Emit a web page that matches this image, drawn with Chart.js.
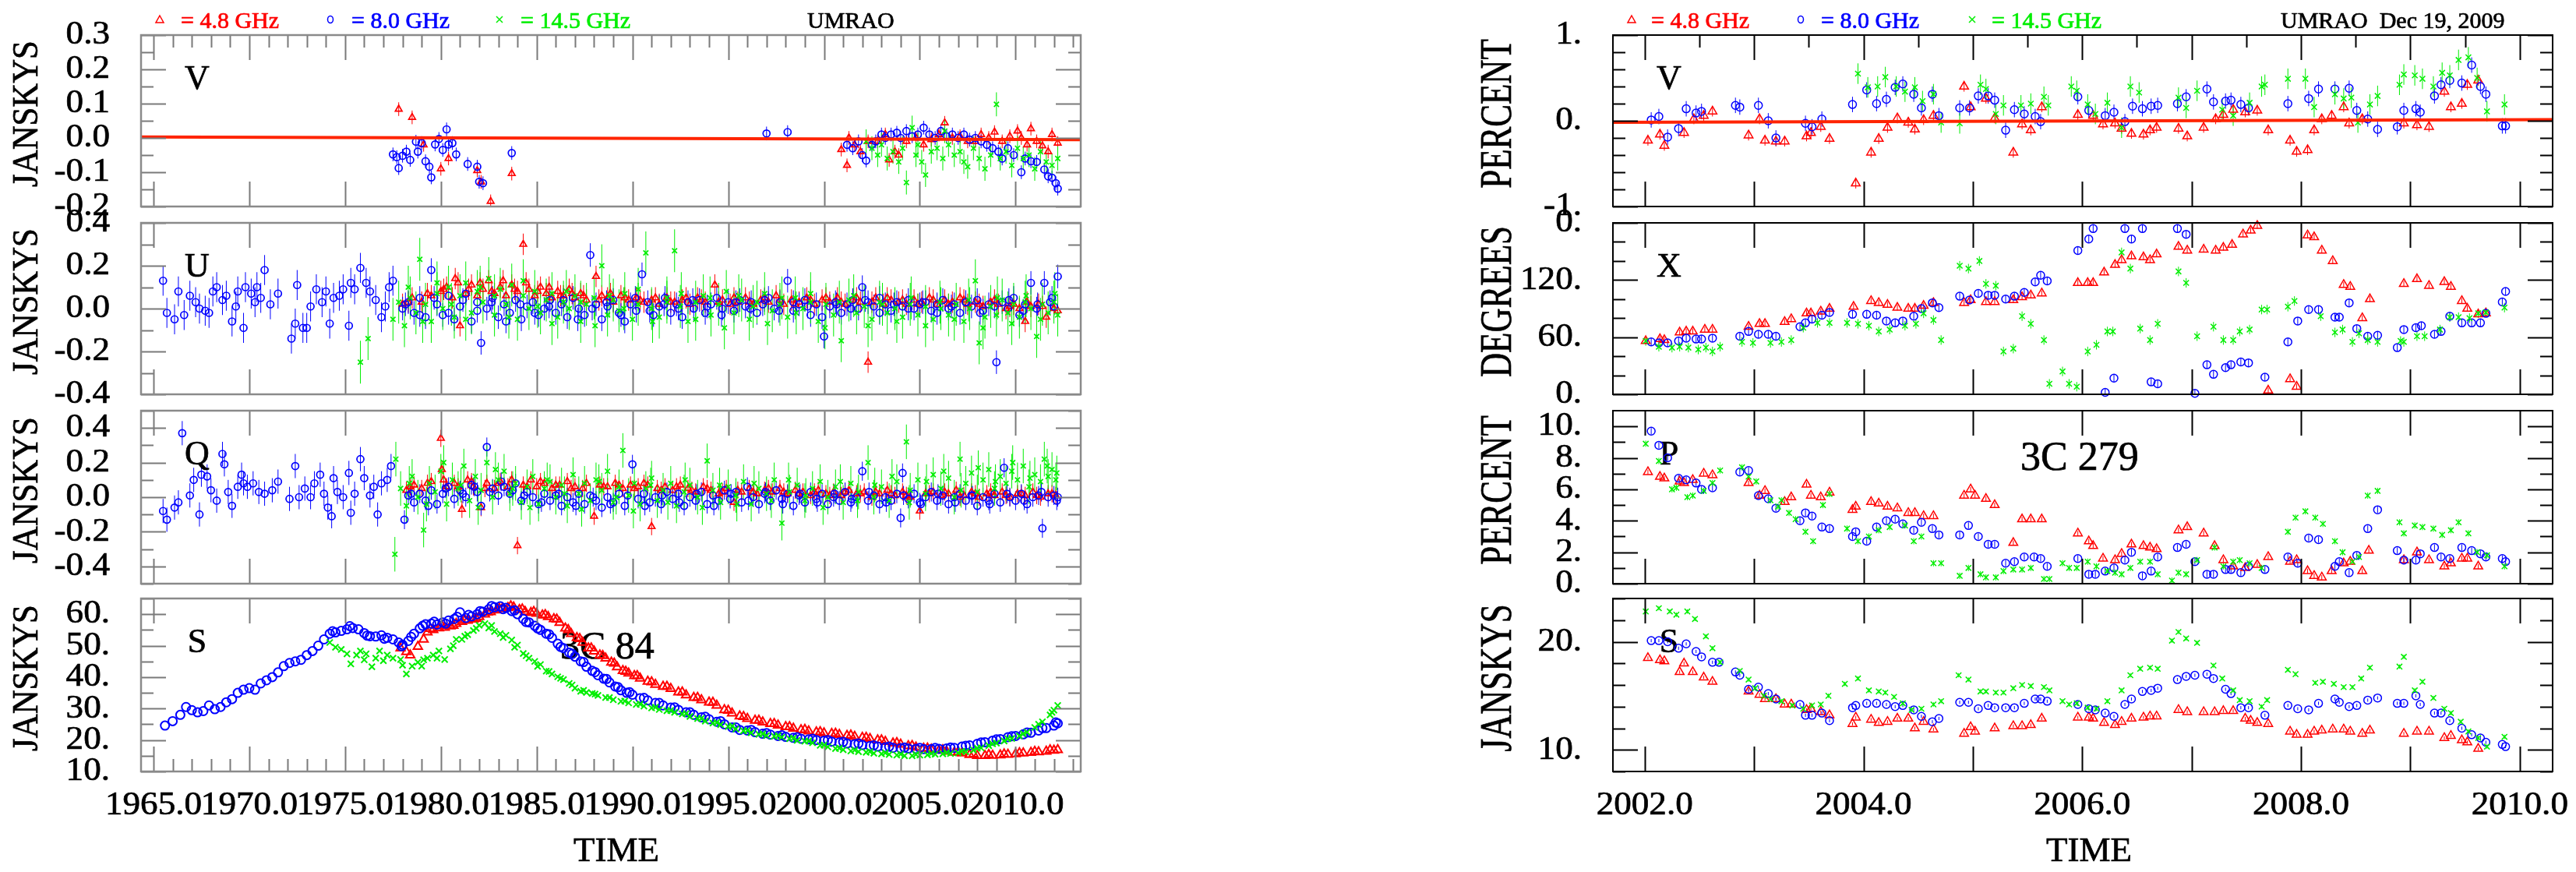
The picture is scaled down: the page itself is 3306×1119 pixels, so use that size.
<!DOCTYPE html>
<html>
<head>
<meta charset="utf-8">
<title>UMRAO 3C 84 / 3C 279</title>
<script src="https://cdn.jsdelivr.net/npm/chart.js@4.4.1/dist/chart.umd.min.js"></script>
<style>
  html, body { margin: 0; padding: 0; background: #fff; }
  #page { position: relative; width: 3306px; height: 1119px; overflow: hidden; background: #fff; }
</style>
</head>
<body>
<div id="page"></div>
<script>
// ---------- tick labels ----------
const leftYears = [1965, 1970, 1975, 1980, 1985, 1990, 1995, 2000, 2005, 2010];
const rightYears = [2002, 2003, 2004, 2005, 2006, 2007, 2008, 2009, 2010];
const rightYearLabels = [2002, 2004, 2006, 2008, 2010];
const lvTicks = [0.3, 0.2, 0.1, 0.0, -0.1, -0.2];
const luTicks = [0.4, 0.2, 0.0, -0.2, -0.4];
const lqTicks = [0.4, 0.2, 0.0, -0.2, -0.4];
const lsTicks = [10, 20, 30, 40, 50, 60];
const rvTicks = [1, 0, -1];
const rvLabels = ['1.', '0.', '-1.'];
const rxTicks = [0, 60, 120, 180];
const rxLabels = ['0.', '60.', '120.', '0.'];
const rpTicks = [0, 2, 4, 6, 8, 10];
const rsTicks = [10, 20];

// ---------- 3C 84 : V (Jy) ----------
const lvRed = [[1977.8,0.084],[1978.5,0.06],[1979.1,-0.02],[1980.0,-0.09],[1980.4,-0.06],[1981.9,-0.095],[1982.1,-0.128],[1982.6,-0.185],[1983.7,-0.104],
  [2000.9,-0.034],[2001.2,-0.08],[2001.3,0.0],[2001.6,-0.02],[2001.9,-0.04],[2002.3,-0.01],[2002.8,-0.01],[2003.2,0.01],[2003.4,-0.064],[2003.7,-0.04],[2003.9,-0.05],
  [2004.3,-0.01],[2004.8,0.0],[2005.2,-0.02],[2005.6,-0.005],[2006.0,0.01],[2006.3,0.044],[2006.7,0.0],[2007.1,0.005],[2007.5,-0.01],[2007.9,-0.01],[2008.2,0.01],
  [2008.6,0.0],[2008.9,0.017],[2009.3,-0.01],[2009.7,0.005],[2010.1,0.02],[2010.3,0.0],[2010.6,-0.02],[2010.8,0.027],[2011.1,-0.01],[2011.4,-0.023],[2011.7,-0.04],[2011.9,0.01],[2012.2,-0.015]];
const lvBlue = [[1977.5,-0.048],[1977.7,-0.056],[1977.8,-0.088],[1978.0,-0.052],[1978.2,-0.04],[1978.4,-0.064],[1978.7,-0.011],[1978.8,-0.04],[1979.0,-0.015],[1979.2,-0.068],
  [1979.4,-0.084],[1979.5,-0.115],[1979.7,-0.019],[1979.9,-0.003],[1980.1,-0.035],[1980.3,0.025],[1980.4,-0.019],[1980.6,-0.015],[1980.8,-0.048],[1981.4,-0.076],
  [1981.9,-0.084],[1982.0,-0.128],[1982.2,-0.132],[1983.7,-0.044],[1997.0,0.013],[1998.1,0.017],
  [2001.2,-0.02],[2001.5,-0.03],[2001.8,-0.01],[2002.0,-0.05],[2002.2,-0.066],[2002.5,-0.02],[2002.7,-0.01],[2003.0,0.01],[2003.2,0.0],[2003.5,0.01],[2003.8,0.015],
  [2004.0,0.0],[2004.3,0.02],[2004.6,0.005],[2004.9,0.01],[2005.2,0.03],[2005.5,0.01],[2005.8,0.0],[2006.1,0.02],[2006.4,0.005],[2006.7,0.01],[2007.0,0.0],[2007.3,0.01],
  [2007.6,-0.005],[2007.9,0.0],[2008.2,-0.01],[2008.5,-0.02],[2008.8,-0.03],[2009.1,-0.04],[2009.3,-0.06],[2009.6,-0.03],[2009.9,-0.05],[2010.3,-0.1],[2010.5,-0.06],
  [2010.8,-0.068],[2011.1,-0.07],[2011.5,-0.092],[2011.7,-0.112],[2011.9,-0.116],[2012.1,-0.132],[2012.2,-0.148]];
const lvGreen = [[2002.2,-0.01],[2002.5,-0.03],[2002.8,-0.05],[2003.0,-0.02],[2003.3,-0.06],[2003.6,-0.04],[2003.9,-0.07],[2004.1,-0.03],[2004.3,-0.13],[2004.6,0.03],
  [2004.8,-0.05],[2004.9,-0.02],[2005.1,-0.07],[2005.3,-0.108],[2005.6,-0.04],[2005.9,-0.03],[2006.2,-0.06],[2006.3,0.02],[2006.5,-0.02],[2006.8,-0.05],[2007.1,-0.04],
  [2007.3,-0.07],[2007.5,-0.084],[2007.8,-0.03],[2008.1,-0.06],[2008.4,-0.09],[2008.7,-0.05],[2009.0,0.098],[2009.2,-0.06],[2009.5,-0.04],[2009.8,-0.08],[2010.1,-0.03],
  [2010.4,-0.06],[2010.7,-0.05],[2011.0,-0.09],[2011.3,-0.04],[2011.6,-0.07],[2011.9,-0.08],[2012.2,-0.06]];
const lvFit = [[1964.35,0.003],[2013.4,-0.005]];

// ---------- 3C 84 : U (Jy) ----------
const luRed = [[1978.0,0.02],[1978.5,0.05],[1979.0,0.03],[1979.5,0.06],[1980.0,0.08],[1980.3,0.1],[1980.6,0.05],[1980.9,0.12],[1981.0,-0.08],[1981.3,0.07],[1981.6,0.11],
  [1981.9,0.06],[1982.2,0.09],[1982.5,0.13],[1982.8,0.07],[1983.1,0.1],[1983.4,0.06],[1983.7,0.11],[1984.0,0.08],[1984.3,0.30],[1984.6,0.09],[1984.9,0.06],[1985.2,0.1],
  [1985.5,0.07],[1985.8,0.05],[1986.1,0.08],[1986.4,0.06],[1986.7,0.09],[1987.0,0.05],[1987.3,0.07],[1987.6,0.04],[1988.1,0.15],[1988.4,0.06],[1988.7,0.05],[1989.0,0.03],
  [1989.4,0.06],[1989.8,0.04],[1990.2,0.05],[1990.6,0.03],[1991.0,0.04],[1991.4,0.02],[1991.8,0.05],[1992.2,0.03],[1992.6,0.04],[1993.0,0.02],[1993.4,0.05],[1993.8,0.03],
  [1994.3,0.11],[1994.7,0.04],[1995.1,0.02],[1995.5,0.03],[1995.9,0.05],[1996.3,0.02],[1996.7,0.04],[1997.1,0.03],[1997.5,0.06],[1997.9,0.02],[1998.3,0.04],[1998.7,0.03],
  [1999.1,0.05],[1999.5,0.02],[1999.9,0.04],[2000.3,0.03],[2000.7,0.05],[2001.1,0.02],[2001.5,0.04],[2001.9,0.03],[2002.3,-0.25],[2002.7,0.05],[2003.1,0.02],[2003.5,0.04],
  [2003.9,0.03],[2004.3,0.02],[2004.7,0.04],[2005.1,0.03],[2005.5,0.05],[2005.9,0.02],[2006.3,0.04],[2006.7,0.03],[2007.1,0.05],[2007.5,0.02],[2007.9,0.03],[2008.3,0.01],
  [2008.7,0.03],[2009.1,0.02],[2009.5,0.0],[2009.9,0.02],[2010.2,0.0],[2010.5,-0.06],[2010.8,0.01],[2011.2,0.02],[2011.6,-0.04],[2012.0,0.0],[2012.2,-0.01]];
const luRed2 = [[1978.3,0.03],[1979.3,0.07],[1980.15,0.09],[1980.75,0.14],[1981.45,0.09],[1982.05,0.12],[1982.65,0.08],[1983.25,0.13],[1983.85,0.09],[1984.45,0.12],
  [1985.05,0.08],[1985.65,0.1],[1986.25,0.06],[1986.85,0.07],[1987.45,0.06],[1988.25,0.04],[1988.85,0.07],[1989.6,0.05],[1990.4,0.04],[1991.2,0.05],[1992.0,0.03],[1992.8,0.05],
  [1993.6,0.04],[1994.5,0.03],[1995.3,0.05],[1996.1,0.03],[1996.9,0.05],[1997.7,0.04],[1998.5,0.02],[1999.3,0.04],[2000.1,0.05],[2000.9,0.03],[2001.7,0.05],[2002.5,0.03],
  [2003.3,0.05],[2004.1,0.04],[2004.9,0.02],[2005.7,0.04],[2006.5,0.02],[2007.3,0.04],[2008.1,0.02],[2008.9,0.04],[2009.7,0.01],[2010.6,0.03],[2011.4,0.01]];
const luBlueEarly = [[1965.5,0.13],[1965.7,-0.02],[1966.1,-0.05],[1966.3,0.08],[1966.6,-0.03],[1966.9,0.06],[1967.2,0.03],[1967.4,0.0],[1967.7,-0.01],[1967.9,-0.02],[1968.1,0.08],
  [1968.3,0.10],[1968.6,0.04],[1968.8,0.06],[1969.1,-0.06],[1969.3,0.01],[1969.4,0.08],[1969.7,-0.09],[1969.8,0.10],[1970.1,0.07],[1970.3,0.03],[1970.4,0.10],[1970.6,0.05],
  [1970.8,0.18],[1971.1,0.02],[1971.5,0.07],[1972.2,-0.14],[1972.4,-0.07],[1972.5,0.11],[1972.8,-0.09],[1973.0,-0.09],[1973.2,0.01],[1973.5,0.09],[1973.8,0.03],[1974.0,0.08],
  [1974.2,-0.07],[1974.4,0.05],[1974.7,0.06],[1974.9,0.09],[1975.2,-0.08],[1975.3,0.12],[1975.5,0.09],[1975.8,0.19],[1976.1,0.12],[1976.3,0.08],[1976.6,0.04],[1976.9,-0.04],
  [1977.1,0.01],[1977.3,0.10],[1977.5,0.13]];
const luBlue = [[1978.0,0.0],[1978.3,0.03],[1978.6,-0.02],[1978.9,0.05],[1979.2,-0.04],[1979.5,0.18],[1979.8,0.02],[1980.1,-0.03],[1980.4,0.06],[1980.7,-0.05],[1981.0,0.01],[1981.3,0.07],
  [1981.6,-0.06],[1981.9,0.03],[1982.1,-0.16],[1982.4,0.0],[1982.7,0.05],[1983.0,-0.04],[1983.3,0.02],[1983.6,-0.02],[1983.9,0.04],[1984.2,-0.05],[1984.5,0.01],[1984.8,0.03],
  [1985.1,-0.03],[1985.4,0.0],[1985.7,0.04],[1986.0,-0.02],[1986.3,0.02],[1986.6,-0.04],[1986.9,0.05],[1987.2,0.0],[1987.5,-0.03],[1987.8,0.25],[1988.1,0.02],[1988.4,-0.05],
  [1988.7,0.01],[1989.0,0.04],[1989.3,-0.02],[1989.6,-0.06],[1989.9,0.02],[1990.2,-0.01],[1990.5,0.16],[1990.8,0.03],[1991.1,-0.03],[1991.4,0.01],[1991.7,0.05],[1992.0,-0.02],
  [1992.3,0.02],[1992.6,-0.04],[1992.9,0.03],[1993.2,0.0],[1993.5,0.04],[1993.8,-0.02],[1994.1,0.02],[1994.4,0.05],[1994.7,0.0],[1995.0,0.03],[1995.3,-0.01],[1995.6,0.04],
  [1995.9,0.01],[1996.2,0.03],[1996.5,-0.02],[1996.8,0.02],[1997.1,0.05],[1997.4,0.0],[1997.7,0.03],[1998.1,0.13],[1998.4,-0.01],[1998.7,0.02],[1999.0,0.04],[1999.3,-0.03],
  [1999.6,0.02],[2000.0,-0.13],[2000.3,0.01],[2000.6,0.03],[2000.9,-0.02],[2001.2,0.02],[2001.5,0.04],[2001.8,0.0],[2002.0,0.10],[2002.3,0.03],[2002.6,0.01],[2002.9,0.05],
  [2003.2,0.02],[2003.5,-0.01],[2003.8,0.03],[2004.1,0.01],[2004.4,0.04],[2004.7,0.0],[2005.0,0.02],[2005.3,0.03],[2005.6,-0.01],[2005.9,0.02],[2006.2,0.04],[2006.5,0.0],
  [2006.8,0.02],[2007.1,-0.02],[2007.4,0.03],[2007.7,0.01],[2008.0,0.04],[2008.3,-0.01],[2008.6,0.02],[2009.0,-0.25],[2009.3,0.03],[2009.6,0.0],[2009.9,0.05],[2010.2,-0.03],
  [2010.5,0.02],[2010.8,0.12],[2011.1,0.0],[2011.5,0.12],[2011.8,0.03],[2012.0,0.01],[2012.2,0.15]];
const luBlue2 = [[1978.15,0.02],[1978.9,-0.03],[1979.65,0.05],[1980.4,-0.02],[1981.15,0.04],[1981.9,-0.01],[1982.65,0.03],[1983.4,-0.06],[1984.15,0.02],[1984.9,-0.02],
  [1985.65,0.01],[1986.4,0.04],[1987.15,-0.05],[1987.9,0.0],[1988.65,0.03],[1989.4,-0.03],[1990.15,0.05],[1990.9,-0.01],[1991.65,0.02],[1992.4,0.0],[1993.15,0.04],[1993.9,0.01],
  [1994.65,-0.03],[1995.4,0.03],[1996.15,0.0],[1996.9,0.04],[1997.65,-0.01],[1998.4,0.03],[1999.15,0.01],[1999.9,-0.04],[2000.65,0.02],[2001.4,0.0],[2002.15,0.04],[2002.9,-0.02],
  [2003.65,0.02],[2004.4,0.0],[2005.15,0.03],[2005.9,-0.02],[2006.65,0.01],[2007.4,0.03],[2008.15,-0.02],[2008.9,0.01],[2009.65,0.04],[2010.4,-0.01],[2011.15,0.02],[2011.9,0.05]];
const luGreen = [[1975.8,-0.25],[1976.2,-0.14],[1977.5,-0.05],[1977.8,0.03],[1978.1,-0.08],[1978.4,0.05],[1978.7,-0.02],[1978.9,0.23],[1979.2,0.02],[1979.5,-0.06],
  [1979.8,0.07],[1980.1,0.0],[1980.4,0.1],[1980.7,-0.04],[1981.0,0.06],[1981.3,0.12],[1981.6,-0.02],[1981.9,0.08],[1982.2,0.03],[1982.5,0.14],[1982.8,-0.03],[1983.1,0.09],
  [1983.4,0.02],[1983.7,0.11],[1984.0,-0.05],[1984.3,0.06],[1984.6,0.0],[1984.9,0.08],[1985.2,-0.02],[1985.5,0.04],[1985.8,0.07],[1986.1,-0.04],[1986.4,0.03],[1986.7,0.0],
  [1987.0,0.06],[1987.3,-0.06],[1987.6,0.02],[1988.0,0.05],[1988.4,0.20],[1988.7,-0.03],[1989.0,0.04],[1989.3,-0.01],[1989.6,0.07],[1990.0,-0.05],[1990.3,0.02],[1990.7,0.26],
  [1991.0,0.0],[1991.4,-0.04],[1991.8,0.05],[1992.2,0.27],[1992.5,0.01],[1992.9,-0.06],[1993.3,0.03],[1993.7,0.06],[1994.1,-0.03],[1994.5,0.02],[1994.9,0.08],[1995.3,-0.02],
  [1995.7,0.04],[1996.1,-0.05],[1996.5,0.03],[1996.9,0.07],[1997.3,-0.01],[1997.7,0.02],[1998.1,-0.04],[1998.5,0.05],[1998.9,0.0],[1999.3,0.03],[1999.7,-0.06],[2000.1,0.02],
  [2000.5,-0.03],[2000.9,-0.15],[2001.3,0.04],[2001.7,-0.02],[2002.1,0.01],[2002.5,-0.05],[2002.9,0.03],[2003.3,-0.02],[2003.7,0.0],[2004.1,-0.04],[2004.5,0.02],[2004.9,-0.03],
  [2005.3,0.01],[2005.7,-0.05],[2006.1,0.0],[2006.5,-0.03],[2006.9,0.02],[2007.3,-0.06],[2007.6,0.0],[2007.9,0.13],[2008.1,-0.16],[2008.4,-0.04],[2008.7,0.01],[2009.0,-0.03],
  [2009.3,0.04],[2009.6,-0.02],[2009.9,0.02],[2010.2,-0.04],[2010.5,0.03],[2010.8,0.0],[2011.1,-0.13],[2011.4,0.02],[2011.7,-0.02],[2012.0,0.03],[2012.2,-0.03]];
const luGreen2 = [[1978.3,0.1],[1979.05,-0.06],[1979.8,0.12],[1980.55,0.02],[1981.3,-0.05],[1982.05,0.1],[1982.8,0.06],[1983.55,-0.04],[1984.3,0.13],[1985.05,0.01],
  [1985.8,-0.07],[1986.55,0.08],[1987.3,0.03],[1988.05,-0.08],[1988.8,0.06],[1989.55,0.0],[1990.3,0.09],[1991.05,-0.06],[1991.8,0.03],[1992.55,0.07],[1993.3,-0.05],[1994.05,0.05],
  [1994.8,-0.09],[1995.55,0.06],[1996.3,0.01],[1997.05,-0.07],[1997.8,0.05],[1998.55,-0.02],[1999.3,0.07],[2000.05,-0.09],[2000.8,0.03],[2001.55,0.06],[2002.3,-0.08],[2003.05,0.02],
  [2003.8,-0.06],[2004.55,0.05],[2005.3,-0.08],[2006.05,0.03],[2006.8,-0.05],[2007.55,0.04],[2008.3,-0.09],[2009.05,0.05],[2009.8,-0.07],[2010.55,0.06],[2011.3,-0.05],[2012.05,0.07]];

// ---------- 3C 84 : Q (Jy) ----------
const lqRed = [[1978.2,0.04],[1978.6,0.07],[1979.0,0.05],[1979.5,0.09],[1980.0,0.34],[1980.05,0.16],[1980.3,0.06],[1980.7,0.08],[1981.1,-0.07],[1981.4,0.1],[1981.7,0.06],
  [1982.1,-0.06],[1982.4,0.08],[1982.8,0.05],[1983.1,0.09],[1983.5,0.06],[1984.0,-0.28],[1984.3,0.07],[1984.7,0.1],[1985.0,0.06],[1985.4,0.08],[1985.8,0.05],[1986.2,0.07],
  [1986.6,0.09],[1987.0,0.06],[1987.4,0.05],[1988.0,-0.11],[1988.3,0.07],[1988.7,0.06],[1989.1,0.08],[1989.5,0.05],[1989.9,0.07],[1990.3,0.06],[1990.6,0.08],[1991.0,-0.17],
  [1991.3,0.05],[1991.7,0.06],[1992.1,0.04],[1992.5,0.07],[1992.9,0.05],[1993.3,0.03],[1993.7,0.06],[1994.1,0.04],[1994.5,0.02],[1994.9,0.05],[1995.3,-0.03],[1995.7,0.03],
  [1996.1,0.05],[1996.5,0.02],[1996.9,0.04],[1997.3,0.03],[1997.7,0.05],[1998.1,0.02],[1998.5,0.04],[1998.9,0.03],[1999.3,0.01],[1999.7,0.04],[2000.1,0.02],[2000.5,0.03],
  [2000.9,0.01],[2001.3,0.04],[2001.7,0.02],[2002.1,0.03],[2002.5,0.0],[2002.9,0.02],[2003.3,0.04],[2003.7,0.01],[2004.1,0.03],[2004.5,0.0],[2005.0,-0.08],[2005.3,0.02],
  [2005.7,0.03],[2006.1,0.01],[2006.5,0.02],[2006.9,0.04],[2007.3,0.01],[2007.7,0.03],[2008.1,0.0],[2008.5,0.02],[2008.9,0.01],[2009.3,0.03],[2009.7,0.0],[2010.1,0.02],
  [2010.5,0.01],[2010.9,0.03],[2011.3,0.0],[2011.7,0.02],[2012.1,0.01]];
const lqRed2 = [[1978.4,0.06],[1979.3,0.08],[1980.15,0.1],[1980.9,0.06],[1981.6,0.09],[1982.3,0.05],[1983.0,0.08],[1983.7,0.1],[1984.5,0.06],[1985.2,0.09],[1986.0,0.07],
  [1986.8,0.05],[1987.6,0.08],[1988.5,0.06],[1989.3,0.07],[1990.1,0.05],[1990.8,0.07],[1991.5,0.04],[1992.3,0.06],[1993.1,0.04],[1993.9,0.05],[1994.7,0.03],[1995.5,0.04],
  [1996.3,0.03],[1997.1,0.05],[1997.9,0.03],[1998.7,0.02],[1999.5,0.03],[2000.3,0.01],[2001.1,0.03],[2001.9,0.02],[2002.7,0.03],[2003.5,0.02],[2004.3,0.01],[2005.5,0.02],
  [2006.3,0.03],[2007.1,0.0],[2007.9,0.02],[2008.7,0.03],[2009.5,0.01],[2010.3,0.02],[2011.1,0.01],[2011.9,0.02]];
const lqBlueEarly = [[1965.5,-0.08],[1965.7,-0.13],[1966.1,-0.06],[1966.3,-0.03],[1966.5,0.37],[1966.9,0.01],[1967.1,0.10],[1967.4,-0.10],[1967.5,0.13],[1967.8,0.12],[1968.0,0.04],
  [1968.3,-0.02],[1968.6,0.25],[1968.7,0.19],[1968.9,0.03],[1969.1,-0.05],[1969.4,0.06],[1969.6,0.13],[1969.7,0.08],[1969.9,0.06],[1970.2,0.08],[1970.5,0.03],[1970.8,0.02],
  [1971.2,0.04],[1971.5,0.09],[1972.1,-0.01],[1972.4,0.18],[1972.6,0.0],[1972.9,0.05],[1973.2,0.0],[1973.4,0.08],[1973.7,0.13],[1973.9,0.02],[1974.1,-0.06],[1974.3,-0.11],
  [1974.4,0.11],[1974.6,0.03],[1974.9,0.0],[1975.2,0.14],[1975.3,-0.09],[1975.5,0.02],[1975.8,0.22],[1976.0,0.11],[1976.3,0.01],[1976.5,0.06],[1976.7,-0.10],[1976.9,0.08],
  [1977.2,0.10],[1977.4,0.18]];
const lqBlue = [[1978.1,-0.13],[1978.3,0.01],[1978.6,-0.03],[1978.9,0.02],[1979.2,-0.02],[1979.5,0.04],[1979.8,-0.04],[1980.1,0.02],[1980.4,0.06],[1980.7,-0.01],[1981.0,0.04],[1981.3,0.0],
  [1981.6,0.07],[1981.9,0.03],[1982.1,-0.05],[1982.4,0.29],[1982.7,0.05],[1983.0,0.01],[1983.3,0.06],[1983.6,0.02],[1983.9,0.08],[1984.2,-0.02],[1984.5,0.03],[1984.8,0.0],
  [1985.1,-0.04],[1985.4,0.02],[1985.7,-0.02],[1986.0,0.01],[1986.3,-0.05],[1986.6,0.0],[1986.9,-0.03],[1987.2,0.02],[1987.5,-0.04],[1987.8,0.01],[1988.1,-0.02],[1988.4,-0.06],
  [1988.7,0.0],[1989.0,-0.03],[1989.3,0.02],[1989.6,-0.05],[1990.0,0.19],[1990.3,-0.01],[1990.6,0.02],[1990.9,-0.03],[1991.2,0.0],[1991.5,-0.04],[1991.8,0.03],[1992.1,-0.01],
  [1992.4,0.02],[1992.7,-0.05],[1993.0,0.0],[1993.3,-0.02],[1993.6,0.03],[1993.9,-0.04],[1994.2,0.01],[1994.5,-0.02],[1994.8,0.04],[1995.1,-0.01],[1995.4,0.03],[1995.7,-0.03],
  [1996.0,0.06],[1996.3,0.0],[1996.6,-0.04],[1996.9,0.02],[1997.2,-0.02],[1997.5,0.04],[1997.8,-0.01],[1998.1,0.02],[1998.4,-0.05],[1998.7,0.01],[1999.0,-0.03],[1999.3,0.03],
  [1999.6,-0.01],[1999.9,0.02],[2000.2,-0.04],[2000.5,0.0],[2000.8,-0.02],[2001.1,0.03],[2001.4,-0.03],[2001.7,0.0],[2002.0,0.15],[2002.3,-0.02],[2002.6,0.01],[2002.9,-0.04],
  [2003.2,0.0],[2003.5,-0.02],[2003.8,0.02],[2004.0,-0.12],[2004.1,0.14],[2004.4,-0.01],[2004.7,0.02],[2005.0,-0.03],[2005.3,0.0],[2005.6,0.03],[2005.9,-0.02],[2006.2,0.01],
  [2006.5,-0.04],[2006.8,0.0],[2007.1,0.02],[2007.4,-0.02],[2007.7,0.01],[2008.0,-0.05],[2008.3,0.0],[2008.6,-0.02],[2008.9,0.02],[2009.2,-0.03],[2009.4,0.17],[2009.7,0.0],
  [2010.0,-0.02],[2010.3,0.02],[2010.6,-0.04],[2010.9,0.0],[2011.2,0.01],[2011.4,-0.18],[2011.7,0.0],[2012.0,0.01],[2012.2,0.0]];
const lqBlue2 = [[1978.45,0.02],[1979.35,-0.05],[1980.25,0.05],[1981.15,0.02],[1981.75,0.06],[1982.55,0.03],[1983.15,0.09],[1983.75,0.04],[1984.35,0.01],[1985.25,-0.03],
  [1986.15,0.02],[1987.05,-0.05],[1987.95,0.0],[1988.85,-0.04],[1989.75,0.01],[1990.65,-0.05],[1991.55,0.01],[1992.45,-0.03],[1993.35,0.02],[1994.25,-0.05],[1995.15,0.02],
  [1996.05,-0.02],[1996.95,0.03],[1997.85,-0.04],[1998.75,0.02],[1999.65,-0.03],[2000.55,0.02],[2001.45,-0.01],[2002.35,0.03],[2003.25,-0.03],[2004.15,0.01],[2005.05,-0.04],
  [2005.95,0.02],[2006.85,-0.03],[2007.75,0.01],[2008.65,-0.04],[2009.55,0.02],[2010.45,-0.02],[2011.35,0.03],[2012.15,-0.02]];
const lqGreen = [[1977.6,-0.33],[1977.65,0.22],[1977.9,0.05],[1978.2,-0.05],[1978.5,0.12],[1978.8,0.0],[1979.1,-0.19],[1979.4,0.08],[1979.7,0.03],[1980.0,0.15],[1980.3,-0.04],
  [1980.6,0.1],[1980.9,0.05],[1981.2,0.18],[1981.5,-0.02],[1981.8,0.12],[1982.1,0.04],[1982.4,0.2],[1982.7,0.0],[1983.0,0.1],[1983.3,0.15],[1983.6,0.02],[1983.9,0.08],
  [1984.2,-0.03],[1984.5,0.06],[1984.8,0.12],[1985.1,-0.04],[1985.4,0.05],[1985.7,0.09],[1986.0,0.0],[1986.3,0.07],[1986.6,-0.05],[1986.9,0.13],[1987.2,0.02],[1987.5,0.08],
  [1987.8,-0.02],[1988.1,0.1],[1988.4,0.04],[1988.7,0.15],[1989.0,-0.03],[1989.3,0.06],[1989.5,0.27],[1989.8,0.01],[1990.1,0.08],[1990.4,-0.04],[1990.7,0.05],[1991.0,0.11],
  [1991.3,-0.02],[1991.6,0.04],[1992.0,0.08],[1992.3,-0.05],[1992.7,0.03],[1993.0,0.07],[1993.4,0.0],[1993.9,0.21],[1994.2,0.04],[1994.6,-0.03],[1995.0,0.06],[1995.4,0.01],
  [1995.8,0.09],[1996.2,-0.04],[1996.6,0.05],[1997.0,0.02],[1997.4,0.1],[1997.8,-0.15],[1998.2,0.03],[1998.6,0.07],[1999.0,-0.02],[1999.4,0.05],[1999.8,0.09],[2000.2,0.0],
  [2000.6,0.06],[2001.0,-0.03],[2001.4,0.08],[2001.8,0.03],[2002.3,0.20],[2002.6,0.0],[2003.0,0.06],[2003.4,-0.02],[2003.8,0.09],[2004.3,0.32],[2004.5,0.04],[2004.9,0.1],
  [2005.3,0.02],[2005.7,0.13],[2006.1,0.05],[2006.5,0.11],[2006.8,0.0],[2007.1,0.22],[2007.4,0.08],[2007.7,0.14],[2008.0,0.03],[2008.3,0.1],[2008.6,0.16],[2008.9,0.05],
  [2009.2,0.12],[2009.5,0.08],[2009.8,0.15],[2010.1,0.1],[2010.4,0.18],[2010.7,0.06],[2011.0,0.13],[2011.3,0.09],[2011.5,0.22],[2011.7,0.12],[2011.9,0.16],[2012.1,0.1]];
const lqGreen2 = [[1978.35,0.08],[1979.25,-0.04],[1980.15,0.2],[1981.05,0.07],[1981.95,-0.06],[1982.85,0.16],[1983.75,0.05],[1984.65,-0.06],[1985.55,0.1],[1986.45,0.02],
  [1987.35,-0.07],[1988.25,0.09],[1989.15,0.0],[1990.05,-0.08],[1990.95,0.07],[1991.85,-0.03],[1992.75,0.1],[1993.65,-0.06],[1994.55,0.07],[1995.45,-0.04],[1996.35,0.08],
  [1997.25,-0.02],[1998.15,0.1],[1999.05,0.01],[1999.95,-0.06],[2000.85,0.09],[2001.75,-0.02],[2002.65,0.07],[2003.55,0.12],[2004.45,-0.03],[2005.35,0.09],[2006.25,0.15],
  [2007.15,0.04],[2008.05,0.17],[2008.95,0.09],[2009.85,0.2],[2010.75,0.11],[2011.65,0.18],[2012.15,0.14]];

// ---------- 3C 84 : S (Jy) ----------
const lsRed = [[1977.9,49.2],[1978.2,48],[1978.4,47],[1978.8,49.7],[1979.1,52],[1979.3,54.3],[1979.6,55],[1979.9,55.6],[1980.2,55.8],[1980.5,56.2],[1980.8,57],[1981.1,57.6],
  [1981.4,58],[1981.7,58.4],[1982.0,59.2],[1982.3,60],[1982.6,60.7],[1982.9,61.3],[1983.2,61.7],[1983.5,62],[1983.8,62.2],[1984.1,61.4],[1984.4,60.8],[1984.7,60.5],[1985.0,60.2],
  [1985.3,59.7],[1985.6,59.2],[1985.9,58.5],[1986.2,57.3],[1986.5,55.5],[1986.8,53.8],[1987.1,52.5],[1987.4,51],[1987.7,49.2],[1988.0,48.2],[1988.3,47],[1988.6,46],[1988.9,44.7],
  [1989.2,43.2],[1989.5,42],[1989.8,41.2],[1990.1,40.4],[1990.4,39.6],[1990.8,38.6],[1991.2,37.6],[1991.6,37],[1992.0,36.3],[1992.4,35.2],[1992.8,34.3],[1993.2,33.5],
  [1993.6,32.7],[1994.0,32],[1994.4,31],[1994.8,29.6],[1995.2,28.5],[1995.6,27.6],[1996.0,26.8],[1996.4,26.2],[1996.8,25.7],[1997.2,25.2],[1997.6,24.7],[1998.0,24.2],
  [1998.4,23.7],[1998.8,23.2],[1999.2,22.8],[1999.6,22.5],[2000.0,22.2],[2000.4,22],[2000.8,21.7],[2001.2,21.4],[2001.6,21.1],[2002.0,20.8],[2002.4,20.4],[2002.8,20],
  [2003.2,19.5],[2003.6,19],[2004.0,18.6],[2004.4,18.1],[2004.8,17.7],[2005.2,17.3],[2005.6,17],[2006.0,16.7],[2006.4,16.4],[2006.8,16.1],[2007.2,15.8],[2007.6,15.3],
  [2008.0,15.0],[2008.4,15.0],[2008.8,15.1],[2009.2,15.2],[2009.6,15.4],[2010.0,15.6],[2010.4,15.8],[2010.8,16.0],[2011.2,16.2],[2011.6,16.4],[2012.0,16.7],[2012.2,16.9]];
const lsRed2 = [[1979.45,55.4],[1980.05,56.3],[1980.65,56.4],[1981.25,58.2],[1981.85,58.6],[1982.45,60.6],[1983.05,61.8],[1983.65,62.6],[1984.25,61.6],[1984.85,60.8],
  [1985.45,59.8],[1986.05,58.4],[1986.65,55],[1987.25,52.2],[1987.85,49.2],[1988.45,46.8],[1989.05,44.4],[1989.65,41.8],[1990.25,40.4],[1991.0,38.4],[1991.8,37],[1992.6,35.2],
  [1993.4,33.5],[1994.2,31.9],[1995.0,29.4],[1995.8,27.4],[1996.6,26.2],[1997.4,25.2],[1998.2,24.2],[1999.0,23.3],[1999.8,22.6],[2000.6,22.1],[2001.4,21.5],[2002.2,20.8],
  [2003.0,20],[2003.8,19.1],[2004.6,18.2],[2005.4,17.4],[2006.2,16.8],[2007.0,16.2],[2007.8,15.5],[2008.6,15.3],[2009.4,15.5],[2010.2,15.9],[2011.0,16.3],[2011.8,16.8]];
const lsBlue = [[1965.6,24.6],[1966.0,26],[1966.4,28],[1966.7,30.5],[1967.0,29.5],[1967.3,28.8],[1967.6,29.2],[1967.9,31],[1968.2,29.8],[1968.5,30.5],[1968.8,32],[1969.1,33],
  [1969.4,35],[1969.7,36],[1970.0,36.5],[1970.3,36],[1970.6,38],[1970.9,39],[1971.2,40],[1971.5,41.5],[1971.8,43.5],[1972.1,44.5],[1972.4,45],[1972.7,45.5],[1973.0,47],
  [1973.3,48.3],[1973.6,50],[1973.9,52],[1974.2,53.8],[1974.5,54.2],[1974.8,54.7],[1975.1,55.2],[1975.4,55.6],[1975.7,55.2],[1976.0,54],[1976.3,53],[1976.6,52.9],[1976.9,53.3],
  [1977.2,52.5],[1977.5,52],[1977.8,51],[1978.0,50.3],[1978.3,51.5],[1978.6,53.8],[1978.9,55.5],[1979.2,56.8],[1979.5,57],[1979.8,56.7],[1980.1,57.4],[1980.4,58],[1980.7,58.5],
  [1981.0,60.6],[1981.3,58.8],[1981.6,59.3],[1981.9,60],[1982.2,60.8],[1982.5,61.6],[1982.8,62.2],[1983.1,62.5],[1983.4,62],[1983.7,61],[1984.0,60],[1984.3,58.5],[1984.6,57.4],
  [1984.9,56.3],[1985.2,55],[1985.5,53.8],[1985.8,52.5],[1986.1,50.6],[1986.4,49.2],[1986.7,47.8],[1987.0,46.5],[1987.3,45],[1987.6,43.3],[1987.9,42],[1988.2,40.6],[1988.5,39.5],
  [1988.8,38.3],[1989.1,37],[1989.4,35.8],[1989.7,35],[1990.0,34.4],[1990.4,33.3],[1990.8,32.6],[1991.2,31.8],[1991.6,31],[1992.0,30.3],[1992.4,29.6],[1992.8,28.8],[1993.2,28],
  [1993.6,27.2],[1994.0,26.6],[1994.4,25.8],[1994.8,25],[1995.2,24],[1995.6,23.2],[1996.0,23],[1996.4,22.5],[1996.8,22],[1997.2,21.7],[1997.6,21.3],[1998.0,21],[1998.4,20.7],
  [1998.8,20.4],[1999.2,20.2],[1999.6,20],[2000.0,19.8],[2000.4,19.5],[2000.8,19.2],[2001.2,18.9],[2001.6,18.7],[2002.0,18.4],[2002.4,18.1],[2002.8,17.9],[2003.2,17.7],
  [2003.6,17.5],[2004.0,17.4],[2004.4,17.3],[2004.8,17.2],[2005.2,17.1],[2005.6,17.1],[2006.0,17.2],[2006.4,17.3],[2006.8,17.5],[2007.2,17.9],[2007.6,18.3],[2008.0,18.8],
  [2008.4,19.3],[2008.8,19.8],[2009.2,20.3],[2009.6,20.9],[2010.0,21.3],[2010.4,21.8],[2010.8,22.3],[2011.2,23],[2011.6,23.8],[2012.0,24.6],[2012.2,25.3]];
const lsBlue2 = [[1974.35,54.6],[1975.25,56.2],[1976.15,53.2],[1977.05,52.2],[1977.95,49.8],[1978.45,52.8],[1979.05,56.3],[1979.65,57.6],[1980.25,57],[1980.85,59.2],
  [1981.45,59.8],[1982.05,61],[1982.65,62.6],[1983.25,61.6],[1983.85,61.2],[1984.45,57.5],[1985.05,55.5],[1985.65,53.6],[1986.25,49.6],[1986.85,47.4],[1987.45,44.8],[1988.05,41.6],
  [1988.65,39.4],[1989.25,36.8],[1989.85,35.2],[1990.6,33.4],[1991.4,31.8],[1992.2,30.4],[1993.0,28.8],[1993.8,27.4],[1994.6,26],[1995.4,24],[1996.2,23.2],[1997.0,22.2],
  [1997.8,21.5],[1998.6,20.9],[1999.4,20.4],[2000.2,20],[2001.0,19.4],[2001.8,18.9],[2002.6,18.3],[2003.4,17.9],[2004.2,17.6],[2005.0,17.5],[2005.8,17.5],[2006.6,17.6],
  [2007.4,18.2],[2008.2,19.2],[2009.0,20.2],[2009.8,21.2],[2010.6,22.4],[2011.4,23.8],[2012.1,25.6]];
const lsGreen = [[1974.2,51],[1974.5,49.5],[1974.8,48.8],[1975.1,47.4],[1975.3,44.2],[1975.6,47],[1975.8,48.3],[1976.1,47.4],[1976.4,43.3],[1976.6,46],[1976.8,48.3],[1977.2,47],
  [1977.5,46],[1977.9,45.6],[1978.2,41],[1978.5,43.5],[1978.8,44.7],[1979.1,45.5],[1979.3,46],[1979.6,47],[1979.9,48.3],[1980.2,45.6],[1980.5,49],[1980.8,52],[1981.1,52],
  [1981.4,53.5],[1981.7,54.8],[1982.0,56.5],[1982.3,57],[1982.5,55.6],[1982.8,54.5],[1983.1,53.8],[1983.4,53.3],[1983.7,51.8],[1984.0,50.2],[1984.3,47.5],[1984.6,46],[1984.9,45],
  [1985.2,44],[1985.5,41.9],[1985.8,41],[1986.1,40.1],[1986.4,39.2],[1986.7,38],[1987.0,36.5],[1987.3,35.5],[1987.6,35.1],[1987.9,34.8],[1988.2,34.2],[1988.6,33.5],[1989.0,32.8],
  [1989.4,32.3],[1989.8,31.8],[1990.2,31.3],[1990.6,30.8],[1991.0,30.2],[1991.4,29.7],[1991.8,29.3],[1992.2,28.8],[1992.6,28.3],[1993.0,27.5],[1993.4,26.8],[1993.8,26],
  [1994.2,25.4],[1994.6,24.9],[1995.0,24.3],[1995.4,23.5],[1995.8,22.9],[1996.2,22.3],[1996.6,21.8],[1997.0,21.4],[1997.4,21.2],[1997.8,20.9],[1998.2,20.4],[1998.6,19.9],
  [1999.0,19.6],[1999.4,19.1],[1999.8,18.3],[2000.2,17.8],[2000.6,17.3],[2001.0,16.9],[2001.4,16.5],[2001.8,16.3],[2002.2,16.1],[2002.6,15.8],[2003.0,15.6],[2003.4,15.4],
  [2003.8,15.2],[2004.2,15.0],[2004.6,15.0],[2005.0,15.2],[2005.4,15.3],[2005.8,15.5],[2006.2,15.6],[2006.6,15.7],[2007.0,15.9],[2007.4,16.3],[2007.8,16.8],[2008.2,17.5],
  [2008.6,18.2],[2009.0,19],[2009.4,19.7],[2009.8,20.5],[2010.2,21.3],[2010.6,22.5],[2011.0,24],[2011.4,25.8],[2011.8,28],[2012.0,29.5],[2012.2,31]];
const lsGreen2 = [[1976.0,45.5],[1977.0,45.2],[1978.0,43.8],[1979.0,43.5],[1979.8,46],[1980.65,50],[1981.25,53],[1981.85,55.5],[1982.65,56.4],[1983.25,52.6],[1983.85,49.5],
  [1984.45,46.8],[1985.05,43.4],[1985.65,41.8],[1986.25,39.6],[1986.85,37.5],[1987.45,35.8],[1988.05,34.6],[1988.8,33.5],[1989.6,32.4],[1990.4,31.4],[1991.2,30.4],[1992.0,29.4],
  [1992.8,28.4],[1993.6,26.9],[1994.4,25.6],[1995.2,24.4],[1996.0,23],[1996.8,22],[1997.6,21.4],[1998.4,20.6],[1999.2,19.7],[2000.0,18.4],[2000.8,17.4],[2001.6,16.8],
  [2002.4,16.3],[2003.2,15.9],[2004.0,15.5],[2004.8,15.4],[2005.6,15.7],[2006.4,16],[2007.2,16.4],[2008.0,17.4],[2008.8,18.8],[2009.6,20.4],[2010.4,22],[2011.2,25],[2011.9,28.8]];

// ---------- 3C 279 : V (percent) ----------
const rvRed = [[2002.03,-0.23],[2002.14,-0.16],[2002.18,-0.29],[2002.36,-0.14],[2002.45,0.02],[2002.54,0.06],[2002.62,0.11],[2002.95,-0.17],[2003.05,0.02],[2003.10,-0.23],
  [2003.20,-0.24],[2003.28,-0.24],[2003.48,-0.18],[2003.52,-0.14],[2003.61,-0.07],[2003.69,-0.21],[2003.93,-0.73],[2004.07,-0.37],[2004.14,-0.21],[2004.22,-0.08],[2004.31,0.03],
  [2004.41,-0.02],[2004.47,-0.10],[2004.55,0.01],[2004.64,0.06],[2004.92,0.40],[2004.98,0.16],[2005.12,0.26],[2005.20,0.03],[2005.37,-0.37],[2005.45,-0.04],[2005.53,-0.11],
  [2005.63,0.16],[2005.96,0.07],[2006.10,0.06],[2006.19,-0.04],[2006.30,-0.03],[2006.36,-0.09],[2006.45,-0.15],[2006.56,-0.16],[2006.62,-0.11],[2006.68,-0.08],[2006.88,-0.09],
  [2006.96,-0.18],[2007.11,-0.08],[2007.22,0.02],[2007.29,0.07],[2007.38,0.13],[2007.49,0.10],[2007.60,0.12],[2007.70,-0.11],[2007.90,-0.23],[2007.96,-0.36],[2008.06,-0.34],
  [2008.12,-0.11],[2008.19,0.02],[2008.28,0.06],[2008.39,0.16],[2008.44,-0.03],[2008.56,0.02],[2008.94,-0.03],[2009.06,-0.05],[2009.17,-0.07],[2009.31,0.34],[2009.37,0.16],
  [2009.47,0.20],[2009.52,0.42],[2009.62,0.47]];
const rvBlue = [[2002.06,0.01],[2002.13,0.05],[2002.21,-0.19],[2002.31,-0.09],[2002.38,0.14],[2002.47,0.09],[2002.52,0.11],[2002.83,0.18],[2002.87,0.16],[2003.04,0.18],
  [2003.13,0.00],[2003.20,-0.20],[2003.47,-0.03],[2003.53,-0.07],[2003.62,0.02],[2003.90,0.19],[2004.03,0.36],[2004.12,0.20],[2004.21,0.25],[2004.29,0.39],[2004.36,0.43],
  [2004.46,0.31],[2004.53,0.15],[2004.63,0.31],[2004.69,0.06],[2004.88,0.15],[2004.97,0.15],[2005.05,0.29],[2005.14,0.29],[2005.20,0.24],[2005.30,-0.11],[2005.38,0.13],
  [2005.47,0.08],[2005.57,0.05],[2005.62,-0.01],[2005.96,0.28],[2006.06,0.12],[2006.21,0.06],[2006.29,0.10],[2006.39,-0.01],[2006.46,0.17],[2006.55,0.14],[2006.63,0.17],
  [2006.69,0.18],[2006.87,0.20],[2006.95,0.28],[2007.14,0.37],[2007.20,0.22],[2007.31,0.23],[2007.36,0.24],[2007.45,0.19],[2007.52,0.15],[2007.88,0.20],[2008.07,0.26],
  [2008.16,0.37],[2008.31,0.37],[2008.44,0.38],[2008.51,0.12],[2008.61,0.02],[2008.70,-0.10],[2008.88,-0.07],[2008.94,0.12],[2009.05,0.14],[2009.09,0.10],[2009.22,0.29],
  [2009.28,0.42],[2009.36,0.47],[2009.47,0.44],[2009.56,0.65],[2009.64,0.40],[2009.69,0.31],[2009.84,-0.06],[2009.87,-0.06]];
const rvGreen = [[2003.95,0.55],[2004.04,0.39],[2004.13,0.40],[2004.20,0.51],[2004.30,0.40],[2004.38,0.34],[2004.47,0.39],[2004.54,0.23],[2004.64,0.31],[2004.71,-0.02],
  [2004.88,-0.03],[2005.07,0.42],[2005.12,0.37],[2005.21,0.08],[2005.28,0.18],[2005.44,0.18],[2005.53,0.20],[2005.65,0.28],[2005.69,0.18],[2005.90,0.40],[2005.95,0.35],
  [2006.05,0.19],[2006.12,0.08],[2006.23,0.21],[2006.36,-0.08],[2006.44,0.40],[2006.52,0.33],[2006.88,0.27],[2006.95,0.15],[2007.05,0.35],[2007.28,0.13],[2007.38,0.06],
  [2007.53,0.21],[2007.64,0.40],[2007.67,0.42],[2007.88,0.49],[2008.04,0.49],[2008.12,0.16],[2008.31,0.31],[2008.39,0.26],[2008.46,0.27],[2008.52,-0.02],[2008.63,0.19],
  [2008.70,0.29],[2008.90,0.42],[2008.94,0.54],[2009.04,0.53],[2009.11,0.49],[2009.21,0.40],[2009.29,0.56],[2009.36,0.53],[2009.44,0.71],[2009.53,0.74],[2009.61,0.50],
  [2009.70,0.11],[2009.86,0.19]];
const rvFit = [[2001.71,-0.019],[2010.30,0.013]];

// ---------- 3C 279 : X (degrees) ----------
const rxRed = [[2002.01,56],[2002.14,58],[2002.18,57],[2002.32,65],[2002.38,66],[2002.44,66],[2002.55,68],[2002.62,68],[2002.95,71],[2003.05,74],[2003.10,74],[2003.28,76],
  [2003.34,79],[2003.48,85],[2003.52,85],[2003.61,87],[2003.69,90],[2003.91,92],[2004.07,98],[2004.14,96],[2004.22,94],[2004.31,91],[2004.41,90],[2004.47,90],[2004.55,93],
  [2004.64,96],[2004.92,96],[2004.98,99],[2005.12,97],[2005.20,97],[2005.37,99],[2005.45,102],[2005.53,104],[2005.63,106],[2005.96,117],[2006.05,117],[2006.10,117],
  [2006.20,128],[2006.30,136],[2006.36,141],[2006.45,145],[2006.56,144],[2006.62,141],[2006.68,147],[2006.88,155],[2006.96,151],[2007.11,152],[2007.22,151],[2007.29,154],
  [2007.37,157],[2007.47,168],[2007.54,172],[2007.60,177],[2007.70,4],[2007.90,16],[2007.96,8],[2008.06,167],[2008.12,165],[2008.19,151],[2008.29,140],[2008.39,115],
  [2008.45,113],[2008.56,80],[2008.63,100],[2008.94,116],[2009.06,121],[2009.17,114],[2009.31,118],[2009.37,113],[2009.47,98],[2009.52,90],[2009.62,84],[2009.69,85]];
const rxBlue = [[2002.06,55],[2002.13,54],[2002.21,54],[2002.31,56],[2002.38,59],[2002.47,58],[2002.52,58],[2002.62,59],[2002.87,61],[2002.95,66],[2003.04,63],[2003.13,63],
  [2003.20,61],[2003.42,71],[2003.47,75],[2003.53,79],[2003.62,83],[2003.69,86],[2003.90,84],[2004.03,84],[2004.12,83],[2004.21,77],[2004.29,75],[2004.36,77],[2004.46,82],
  [2004.53,90],[2004.63,96],[2004.69,91],[2004.88,103],[2004.97,99],[2005.05,106],[2005.14,104],[2005.20,104],[2005.30,100],[2005.38,103],[2005.47,107],[2005.57,118],
  [2005.62,125],[2005.68,119],[2005.96,151],[2006.06,163],[2006.10,174],[2006.21,2],[2006.29,17],[2006.39,174],[2006.45,163],[2006.55,174],[2006.63,13],[2006.69,11],
  [2006.87,174],[2006.95,168],[2007.03,1],[2007.14,31],[2007.20,21],[2007.31,28],[2007.36,31],[2007.45,34],[2007.52,33],[2007.67,18],[2007.88,55],[2007.97,77],[2008.07,89],
  [2008.16,89],[2008.31,81],[2008.35,81],[2008.44,96],[2008.51,69],[2008.61,61],[2008.70,62],[2008.88,49],[2008.94,68],[2009.05,70],[2009.10,72],[2009.22,63],[2009.28,66],
  [2009.36,82],[2009.47,75],[2009.56,75],[2009.64,75],[2009.69,85],[2009.84,97],[2009.87,108]];
const rxGreen = [[2002.01,56],[2002.13,50],[2002.25,49],[2002.32,50],[2002.40,49],[2002.49,47],[2002.56,49],[2002.62,45],[2002.69,50],[2002.89,55],[2002.99,54],[2003.15,54],
  [2003.25,55],[2003.34,57],[2003.45,70],[2003.58,75],[2003.69,75],[2003.85,75],[2003.95,74],[2004.05,72],[2004.14,66],[2004.24,68],[2004.38,72],[2004.48,74],[2004.55,85],
  [2004.64,78],[2004.71,57],[2004.88,135],[2004.96,132],[2005.06,140],[2005.12,116],[2005.21,114],[2005.28,45],[2005.37,48],[2005.45,82],[2005.53,74],[2005.65,57],[2005.70,11],
  [2005.82,24],[2005.88,11],[2005.95,8],[2006.05,45],[2006.13,52],[2006.23,66],[2006.28,66],[2006.36,149],[2006.44,132],[2006.53,69],[2006.62,57],[2006.69,74],[2006.88,129],
  [2006.95,117],[2007.05,61],[2007.20,71],[2007.29,57],[2007.38,57],[2007.44,66],[2007.53,68],[2007.64,89],[2007.69,89],[2007.88,92],[2007.94,98],[2008.18,82],[2008.31,65],
  [2008.38,68],[2008.47,55],[2008.53,64],[2008.61,57],[2008.70,55],[2008.91,56],[2008.94,55],[2009.06,61],[2009.13,61],[2009.27,68],[2009.36,81],[2009.44,81],[2009.54,80],
  [2009.62,85],[2009.69,86],[2009.86,91]];

// ---------- 3C 279 : P (percent) ----------
const rpRed = [[2002.03,7.1],[2002.14,6.8],[2002.18,6.7],[2002.32,6.5],[2002.36,6.4],[2002.44,6.6],[2002.54,7.0],[2002.62,6.9],[2002.95,6.4],[2003.05,5.6],[2003.10,5.9],
  [2003.28,5.2],[2003.34,5.5],[2003.48,6.3],[2003.52,5.6],[2003.61,5.5],[2003.69,5.8],[2003.90,4.7],[2003.93,4.9],[2004.07,5.2],[2004.14,5.1],[2004.22,4.9],[2004.31,4.8],
  [2004.41,4.5],[2004.47,4.5],[2004.55,4.3],[2004.64,4.3],[2004.92,5.6],[2004.98,6.0],[2005.02,5.6],[2005.12,5.4],[2005.20,5.0],[2005.37,2.6],[2005.45,4.1],[2005.53,4.1],
  [2005.63,4.1],[2005.96,3.2],[2006.06,2.7],[2006.10,2.4],[2006.19,1.6],[2006.30,1.5],[2006.36,1.9],[2006.45,2.5],[2006.56,2.4],[2006.62,2.3],[2006.68,2.2],[2006.88,3.4],
  [2006.96,3.6],[2007.11,3.2],[2007.21,2.4],[2007.29,1.5],[2007.38,1.1],[2007.49,1.0],[2007.60,1.2],[2007.70,1.7],[2007.90,1.4],[2007.96,1.5],[2008.06,0.8],[2008.12,0.5],
  [2008.19,0.4],[2008.28,0.8],[2008.39,1.3],[2008.45,1.4],[2008.56,0.8],[2008.62,2.1],[2008.94,1.5],[2009.06,2.0],[2009.17,1.5],[2009.31,1.1],[2009.37,1.3],[2009.47,1.6],
  [2009.52,1.6],[2009.62,1.1]];
const rpBlue = [[2002.06,9.7],[2002.13,8.8],[2002.21,8.0],[2002.31,6.7],[2002.38,6.6],[2002.47,6.4],[2002.52,6.0],[2002.62,6.1],[2002.87,7.1],[2002.95,7.2],[2003.04,5.6],
  [2003.13,5.4],[2003.20,4.8],[2003.42,4.0],[2003.47,4.5],[2003.53,4.3],[2003.62,3.6],[2003.69,3.5],[2003.90,3.0],[2003.93,3.3],[2004.03,2.7],[2004.12,3.6],[2004.21,4.0],
  [2004.29,4.1],[2004.36,3.8],[2004.46,3.4],[2004.53,3.9],[2004.63,3.5],[2004.69,3.1],[2004.88,3.1],[2004.96,3.7],[2005.05,3.0],[2005.14,2.5],[2005.20,2.5],[2005.30,1.3],
  [2005.38,1.4],[2005.47,1.7],[2005.56,1.7],[2005.62,1.6],[2005.68,1.1],[2005.96,1.6],[2006.06,0.6],[2006.12,0.6],[2006.21,0.8],[2006.29,1.0],[2006.39,1.5],[2006.45,2.0],
  [2006.55,0.5],[2006.63,0.8],[2006.69,1.7],[2006.87,2.3],[2006.95,2.5],[2007.03,1.4],[2007.14,0.6],[2007.20,0.6],[2007.31,0.9],[2007.36,0.9],[2007.45,0.7],[2007.52,1.1],
  [2007.67,0.9],[2007.88,1.7],[2007.97,1.3],[2008.07,2.9],[2008.16,2.8],[2008.31,1.1],[2008.35,1.4],[2008.44,0.7],[2008.51,1.8],[2008.61,3.5],[2008.70,4.7],[2008.88,2.1],
  [2008.94,1.5],[2009.05,1.5],[2009.09,1.9],[2009.22,2.3],[2009.28,1.7],[2009.36,1.6],[2009.47,2.3],[2009.56,2.1],[2009.64,1.9],[2009.69,1.7],[2009.84,1.6],[2009.87,1.4]];
const rpGreen = [[2002.01,8.9],[2002.13,7.8],[2002.25,6.0],[2002.29,6.1],[2002.39,5.5],[2002.44,5.6],[2002.54,5.9],[2002.62,6.4],[2002.69,7.2],[2002.89,7.4],[2002.95,6.8],
  [2003.02,6.5],[2003.15,5.3],[2003.22,4.9],[2003.25,5.3],[2003.32,4.5],[2003.38,4.1],[2003.47,3.3],[2003.54,2.7],[2003.63,5.0],[2003.69,5.7],[2003.85,3.5],[2003.95,2.7],
  [2004.05,3.0],[2004.14,3.4],[2004.24,3.6],[2004.38,3.7],[2004.46,2.7],[2004.53,3.0],[2004.64,1.3],[2004.71,1.3],[2004.88,0.5],[2004.96,1.0],[2005.07,0.6],[2005.12,0.4],
  [2005.21,0.4],[2005.28,0.8],[2005.37,0.9],[2005.45,0.9],[2005.53,1.0],[2005.65,0.3],[2005.70,0.3],[2005.82,1.3],[2005.88,1.0],[2005.95,1.0],[2006.05,1.4],[2006.13,1.1],
  [2006.23,0.8],[2006.30,0.7],[2006.36,0.6],[2006.44,1.0],[2006.53,1.4],[2006.62,1.4],[2006.69,0.6],[2006.82,0.2],[2006.88,0.7],[2006.95,0.6],[2007.05,1.5],[2007.21,2.3],
  [2007.29,1.1],[2007.38,1.4],[2007.44,1.5],[2007.53,1.3],[2007.64,1.0],[2007.88,3.3],[2007.95,4.2],[2008.04,4.6],[2008.13,4.2],[2008.20,3.8],[2008.31,2.7],[2008.38,2.0],
  [2008.47,1.4],[2008.53,1.7],[2008.61,5.6],[2008.70,5.9],[2008.90,3.9],[2008.94,3.2],[2009.04,3.7],[2009.11,3.6],[2009.21,3.5],[2009.29,3.1],[2009.37,3.4],[2009.44,3.9],
  [2009.53,3.2],[2009.61,2.0],[2009.70,1.8],[2009.86,1.1]];

// ---------- 3C 279 : S (Jy) ----------
const rsRed = [[2002.03,18.5],[2002.14,18.3],[2002.18,18.2],[2002.32,17.2],[2002.36,18.0],[2002.44,17.2],[2002.54,16.7],[2002.62,16.3],[2002.95,15.4],[2003.05,15.1],
  [2003.10,14.7],[2003.20,14.7],[2003.28,14.2],[2003.34,14.2],[2003.48,13.7],[2003.52,13.8],[2003.61,13.5],[2003.69,13.2],[2003.90,12.4],[2003.93,13.0],[2004.07,12.8],
  [2004.14,12.5],[2004.22,12.6],[2004.31,12.9],[2004.41,12.9],[2004.47,12.0],[2004.55,12.6],[2004.64,11.9],[2004.92,11.5],[2004.98,12.1],[2005.02,11.7],[2005.20,12.0],
  [2005.37,12.2],[2005.45,12.2],[2005.53,12.3],[2005.63,12.9],[2005.96,13.0],[2006.06,13.0],[2006.10,12.9],[2006.20,12.5],[2006.30,12.3],[2006.36,12.6],[2006.45,12.9],
  [2006.56,13.0],[2006.62,13.1],[2006.68,13.1],[2006.88,13.7],[2006.96,13.5],[2007.11,13.5],[2007.21,13.5],[2007.29,13.6],[2007.38,13.6],[2007.49,12.9],[2007.54,12.7],
  [2007.60,12.5],[2007.70,12.4],[2007.90,11.7],[2007.96,11.4],[2008.06,11.4],[2008.12,11.7],[2008.19,11.8],[2008.29,11.9],[2008.39,11.9],[2008.45,11.7],[2008.56,11.5],
  [2008.63,11.8],[2008.94,11.5],[2009.06,11.7],[2009.17,11.7],[2009.31,11.1],[2009.37,11.3],[2009.47,10.9],[2009.52,10.7],[2009.62,10.1]];
const rsBlue = [[2002.06,20.1],[2002.13,20.1],[2002.21,20.0],[2002.31,19.4],[2002.38,19.8],[2002.47,19.1],[2002.52,18.6],[2002.62,18.1],[2002.68,18.1],[2002.83,17.2],
  [2002.87,16.9],[2002.95,15.6],[2003.04,15.8],[2003.13,15.2],[2003.20,14.7],[2003.42,14.2],[2003.47,13.2],[2003.53,13.2],[2003.62,13.4],[2003.69,12.7],[2003.90,13.9],
  [2003.93,14.1],[2004.03,14.3],[2004.12,14.3],[2004.21,14.2],[2004.29,14.0],[2004.36,14.1],[2004.46,13.7],[2004.53,13.1],[2004.63,12.6],[2004.69,12.9],[2004.88,14.4],
  [2004.96,14.4],[2005.05,13.8],[2005.14,14.1],[2005.20,13.9],[2005.30,13.9],[2005.38,13.9],[2005.47,14.3],[2005.57,14.7],[2005.62,14.7],[2005.68,14.5],[2005.96,14.2],
  [2006.06,13.8],[2006.12,13.7],[2006.21,13.4],[2006.29,13.1],[2006.39,14.2],[2006.45,14.7],[2006.55,15.4],[2006.63,15.5],[2006.69,15.7],[2006.87,16.5],[2006.95,16.8],
  [2007.03,16.9],[2007.14,17.0],[2007.20,16.6],[2007.31,15.6],[2007.36,15.2],[2007.45,13.9],[2007.52,13.9],[2007.67,13.2],[2007.88,14.1],[2007.97,13.8],[2008.07,13.7],
  [2008.16,14.3],[2008.31,14.7],[2008.35,14.4],[2008.44,14.0],[2008.51,14.1],[2008.61,14.6],[2008.70,14.8],[2008.88,14.3],[2008.94,14.3],[2009.05,15.0],[2009.09,14.2],
  [2009.22,13.4],[2009.28,13.4],[2009.36,12.7],[2009.47,12.0],[2009.56,11.4],[2009.64,11.1],[2009.69,10.7],[2009.84,10.5],[2009.87,10.3]];
const rsGreen = [[2002.01,22.8],[2002.13,23.1],[2002.23,22.8],[2002.29,22.5],[2002.39,22.8],[2002.46,22.1],[2002.56,20.5],[2002.62,19.4],[2002.69,18.1],[2002.87,17.3],
  [2002.95,16.5],[2003.01,15.7],[2003.09,15.0],[2003.15,14.7],[2003.25,14.5],[2003.35,14.1],[2003.45,13.8],[2003.53,14.1],[2003.61,14.2],[2003.68,15.0],[2003.83,16.1],
  [2003.95,16.6],[2004.05,15.5],[2004.14,15.4],[2004.20,15.3],[2004.28,14.9],[2004.36,14.3],[2004.44,13.7],[2004.53,13.8],[2004.64,14.2],[2004.71,14.5],[2004.87,16.9],
  [2004.96,16.5],[2005.07,15.4],[2005.12,15.4],[2005.21,15.3],[2005.28,15.3],[2005.37,15.7],[2005.45,16.0],[2005.53,15.9],[2005.65,15.8],[2005.70,15.5],[2005.82,14.5],
  [2005.88,14.2],[2005.95,14.3],[2006.05,13.9],[2006.13,13.8],[2006.23,14.5],[2006.36,15.5],[2006.44,16.9],[2006.53,17.5],[2006.62,17.6],[2006.69,17.5],[2006.82,20.1],
  [2006.88,20.9],[2006.95,20.3],[2007.05,19.9],[2007.20,17.8],[2007.28,16.6],[2007.38,15.5],[2007.44,14.6],[2007.53,14.5],[2007.64,14.0],[2007.69,14.6],[2007.88,17.4],
  [2007.95,17.0],[2008.13,16.2],[2008.20,16.3],[2008.30,16.1],[2008.39,15.8],[2008.47,15.8],[2008.55,16.6],[2008.63,17.6],[2008.90,17.7],[2008.94,18.6],[2009.04,15.5],
  [2009.11,16.3],[2009.21,14.8],[2009.31,13.8],[2009.37,13.4],[2009.46,12.6],[2009.53,11.7],[2009.62,11.1],[2009.70,10.3],[2009.86,11.2]];

// ---------- layout ----------
const COLORS = { r: '#ff0000', b: '#0000ff', g: '#00ee00' };
const STYLES = { r: 'triangle', b: 'circle', g: 'crossRot' };
const ORDER = { r: 3, b: 2, g: 1 };
const FIT = '#ff2400';
const SERIF = '"Liberation Serif", "Times New Roman", serif';
const rowTops = [45, 286, 527, 768];
const rowBots = [265, 506, 749, 990];
const page = document.getElementById('page');

function steps(a, b, s) {
  const out = [];
  for (let v = a; v <= b + 1e-9; v += s) out.push(+v.toFixed(4));
  return out;
}

// text slightly widened and thickened, like the plotter's Times face
function label(ctx, text, x, y, align, sx) {
  ctx.save();
  ctx.translate(x, y);
  ctx.scale(sx, 1);
  ctx.textAlign = align;
  ctx.fillText(text, 0, 0);
  ctx.lineWidth = 0.7;
  ctx.strokeStyle = ctx.fillStyle;
  ctx.strokeText(text, 0, 0);
  ctx.restore();
}

const deco = {
  id: 'deco',
  beforeDatasetsDraw(chart) {
    const d = chart.options.plugins.deco;
    const ctx = chart.ctx, a = chart.chartArea, ys = chart.scales.y;
    ctx.save();
    ctx.beginPath();
    ctx.rect(a.left, a.top, a.right - a.left, a.bottom - a.top);
    ctx.clip();
    chart.data.datasets.forEach((ds, i) => {
      if (!ds.err) return;
      const meta = chart.getDatasetMeta(i);
      ctx.strokeStyle = ds.pointBorderColor;
      ctx.lineWidth = 1;
      ctx.beginPath();
      meta.data.forEach((el, j) => {
        const v = ds.data[j].y;
        ctx.moveTo(el.x, ys.getPixelForValue(v + ds.err));
        ctx.lineTo(el.x, ys.getPixelForValue(v - ds.err));
      });
      ctx.stroke();
    });
    ctx.restore();
    ctx.save();
    ctx.fillStyle = '#000';
    ctx.textBaseline = 'alphabetic';
    ctx.font = '44px ' + SERIF;
    label(ctx, d.letter, a.left + 72, a.top + 69, 'center', 1.0);
    if (d.name) {
      ctx.font = d.name.size + 'px ' + SERIF;
      label(ctx, d.name.text, d.name.x - d.ox, d.name.y - d.oy, 'left', 1.0);
    }
    ctx.restore();
  },
  afterDatasetsDraw(chart) {
    const d = chart.options.plugins.deco;
    const ctx = chart.ctx, a = chart.chartArea, xs = chart.scales.x, ys = chart.scales.y;
    ctx.save();
    ctx.strokeStyle = d.tickColor;
    ctx.lineWidth = 2;
    ctx.beginPath();
    d.xMajor.forEach(v => {
      const p = Math.round(xs.getPixelForValue(v)) + 0.5;
      ctx.moveTo(p, a.top); ctx.lineTo(p, a.top + 32);
      ctx.moveTo(p, a.bottom); ctx.lineTo(p, a.bottom - 32);
    });
    d.xMinor.forEach(v => {
      const p = Math.round(xs.getPixelForValue(v)) + 0.5;
      if (d.minorTop) { ctx.moveTo(p, a.top); ctx.lineTo(p, a.top + 16); }
      if (d.minorBottom) { ctx.moveTo(p, a.bottom); ctx.lineTo(p, a.bottom - 16); }
    });
    d.yMajor.forEach(v => {
      const p = Math.round(ys.getPixelForValue(v)) + 0.5;
      ctx.moveTo(a.left, p); ctx.lineTo(a.left + 32, p);
      ctx.moveTo(a.right, p); ctx.lineTo(a.right - 32, p);
    });
    d.yMinor.forEach(v => {
      const p = Math.round(ys.getPixelForValue(v)) + 0.5;
      ctx.moveTo(a.left, p); ctx.lineTo(a.left + 16, p);
      ctx.moveTo(a.right, p); ctx.lineTo(a.right - 16, p);
    });
    ctx.stroke();
    ctx.strokeStyle = d.frameColor;
    ctx.lineWidth = d.frameW;
    ctx.strokeRect(a.left, a.top, a.right - a.left, a.bottom - a.top);
    ctx.restore();
  },
  afterDraw(chart) {
    const d = chart.options.plugins.deco;
    const ctx = chart.ctx, a = chart.chartArea, xs = chart.scales.x, ys = chart.scales.y;
    ctx.save();
    ctx.fillStyle = '#000';
    ctx.font = '43px ' + SERIF;
    ctx.textBaseline = 'middle';
    d.yLabels.forEach((v, i) => label(ctx, d.yText[i], a.left - 40, ys.getPixelForValue(v), 'right', 1.05));
    if (d.xLabels) {
      ctx.textBaseline = 'alphabetic';
      d.xLabels.forEach(v => label(ctx, v.toFixed(1), xs.getPixelForValue(v), 1045 - d.oy, 'center', 1.05));
      ctx.font = '45px ' + SERIF;
      label(ctx, 'TIME', d.timeX - d.ox, 1105 - d.oy, 'center', 1.0);
    }
    // rotated y title, slightly condensed
    ctx.save();
    ctx.translate(d.titleX - d.ox, (a.top + a.bottom) / 2 - 9);
    ctx.rotate(-Math.PI / 2);
    ctx.font = d.titleSize + 'px ' + SERIF;
    ctx.textBaseline = 'alphabetic';
    label(ctx, d.title, 0, 0, 'center', d.titleSx);
    ctx.restore();
    // legend row above the top panel
    if (d.legend) {
      const L = d.legend, y = 25 - d.oy;
      ctx.font = '30px ' + SERIF;
      ctx.textBaseline = 'alphabetic';
      const keys = ['r', 'b', 'g'];
      const txt = ['= 4.8 GHz', '= 8.0 GHz', '= 14.5 GHz'];
      keys.forEach((k, i) => {
        const sx = L.sym[i] - d.ox;
        ctx.strokeStyle = COLORS[k];
        ctx.lineWidth = 1.5;
        ctx.beginPath();
        if (k === 'r') { ctx.moveTo(sx, y - 5); ctx.lineTo(sx + 5, y + 4); ctx.lineTo(sx - 5, y + 4); ctx.closePath(); }
        else if (k === 'b') { ctx.ellipse(sx, y, 3.5, 4.5, 0, 0, Math.PI * 2); }
        else { ctx.moveTo(sx - 4, y - 4); ctx.lineTo(sx + 4, y + 4); ctx.moveTo(sx + 4, y - 4); ctx.lineTo(sx - 4, y + 4); }
        ctx.stroke();
        ctx.fillStyle = COLORS[k];
        label(ctx, txt[i], L.txt[i] - d.ox, 36 - d.oy, 'left', 1.0);
      });
      ctx.fillStyle = '#000';
      label(ctx, L.label, L.labelX - d.ox, 36 - d.oy, 'left', 1.0);
    }
    ctx.restore();
  }
};

function ser(k, data, r, bw, err) {
  return {
    data: data.map(p => ({ x: p[0], y: p[1] })),
    pointStyle: STYLES[k], pointRadius: r[k], pointBorderWidth: bw,
    pointBorderColor: COLORS[k], pointBackgroundColor: 'rgba(0,0,0,0)',
    borderColor: COLORS[k], showLine: false, err: err, order: ORDER[k], clip: 12
  };
}
function fit(data) {
  return {
    data: data.map(p => ({ x: p[0], y: p[1] })),
    showLine: true, borderColor: FIT, borderWidth: 4, pointRadius: 0, order: 0, clip: 2
  };
}

const groups = {
  left: {
    cl: 0, cw: 1640, padL: 181, padR: 253, xMin: 1964.35, xMax: 2013.4,
    xMajor: leftYears, xMinor: steps(1965, 2013, 1), xLabels: leftYears,
    frameColor: '#8a8a8a', frameW: 2.5, tickColor: '#7a7a7a', titleX: 48, titleSize: 47, titleSx: 0.91,
    timeX: 791, r: { r: 5, b: 4.5, g: 4.5 }, bw: 1.7,
    legend: { sym: [205, 424, 641], txt: [232, 451, 668], label: 'UMRAO', labelX: 1036 }
  },
  right: {
    cl: 1660, cw: 1646, padL: 410, padR: 30, xMin: 2001.71, xMax: 2010.30,
    xMajor: rightYears, xMinor: steps(2002.5, 2009.5, 1), xLabels: rightYearLabels,
    frameColor: '#000', frameW: 2, tickColor: '#000', titleX: 1939, titleSize: 56, titleSx: 0.77,
    timeX: 2681, r: { r: 6.5, b: 5, g: 5 }, bw: 1.5,
    legend: { sym: [2094, 2311, 2531], txt: [2119, 2337, 2556], label: 'UMRAO  Dec 19, 2009', labelX: 2927 }
  }
};

function panel(gName, row, o) {
  const g = groups[gName];
  const top = rowTops[row] - 45;
  const bottom = row === 3 ? 1119 : rowBots[row] + 45;
  const h = bottom - top;
  const cv = document.createElement('canvas');
  cv.width = g.cw; cv.height = h;
  cv.style.cssText = 'position:absolute;left:' + g.cl + 'px;top:' + top + 'px;width:' + g.cw + 'px;height:' + h + 'px;';
  page.appendChild(cv);
  const radius = o.r || g.r;
  const sets = o.series.map(s => ser(s[0], s[1], radius, o.bw || g.bw, s[2]));
  if (o.fit) sets.push(fit(o.fit));
  new Chart(cv, {
    type: 'scatter',
    data: { datasets: sets },
    options: {
      responsive: false, animation: false, devicePixelRatio: 1,
      layout: { padding: { left: g.padL, right: g.padR, top: 45, bottom: bottom - rowBots[row] } },
      scales: {
        x: { type: 'linear', display: false, min: g.xMin, max: g.xMax },
        y: { type: 'linear', display: false, min: o.yMin, max: o.yMax }
      },
      plugins: {
        legend: { display: false },
        tooltip: { enabled: false },
        deco: {
          ox: g.cl, oy: top,
          frameColor: g.frameColor, frameW: g.frameW, tickColor: g.tickColor,
          xMajor: g.xMajor, xMinor: g.xMinor, minorTop: row === 0, minorBottom: row === 3 && gName === 'left',
          yMajor: o.yMajor, yMinor: o.yMinor, yLabels: o.yLabels, yText: o.yText,
          xLabels: row === 3 ? g.xLabels : null, timeX: g.timeX,
          title: o.title, titleX: g.titleX, titleSize: g.titleSize, titleSx: g.titleSx,
          letter: o.letter, name: o.name || null,
          legend: row === 0 ? g.legend : null
        }
      }
    },
    plugins: [deco]
  });
}

const f1 = v => v.toFixed(1);
const fdot = v => v + '.';

// 3C 84
panel('left', 0, { series: [['r', lvRed, 0.02], ['b', lvBlue, 0.02], ['g', lvGreen, 0.035]], fit: lvFit,
  yMin: -0.2, yMax: 0.3, yMajor: lvTicks, yMinor: steps(-0.15, 0.25, 0.1), yLabels: lvTicks, yText: lvTicks.map(f1),
  title: 'JANSKYS', letter: 'V' });
panel('left', 1, { series: [['r', luRed, 0.05], ['r', luRed2, 0.05], ['b', luBlueEarly, 0.07], ['b', luBlue, 0.055], ['b', luBlue2, 0.055], ['g', luGreen, 0.1], ['g', luGreen2, 0.1]],
  yMin: -0.4, yMax: 0.4, yMajor: luTicks, yMinor: steps(-0.3, 0.3, 0.2), yLabels: luTicks, yText: luTicks.map(f1),
  title: 'JANSKYS', letter: 'U' });
panel('left', 2, { series: [['r', lqRed, 0.05], ['r', lqRed2, 0.05], ['b', lqBlueEarly, 0.07], ['b', lqBlue, 0.055], ['b', lqBlue2, 0.055], ['g', lqGreen, 0.1], ['g', lqGreen2, 0.1]],
  yMin: -0.5, yMax: 0.5, yMajor: lqTicks, yMinor: steps(-0.5, 0.5, 0.2), yLabels: lqTicks, yText: lqTicks.map(f1),
  title: 'JANSKYS', letter: 'Q' });
panel('left', 3, { series: [['r', lsRed, 0], ['r', lsRed2, 0], ['b', lsBlue, 0], ['b', lsBlue2, 0], ['g', lsGreen, 0], ['g', lsGreen2, 0]],
  r: { r: 6.5, b: 5.5, g: 5.5 }, bw: 2,
  yMin: 10, yMax: 65, yMajor: lsTicks, yMinor: steps(15, 65, 10), yLabels: lsTicks, yText: lsTicks.map(fdot),
  title: 'JANSKYS', letter: 'S', name: { text: '3C 84', x: 719, y: 845, size: 50 } });

// 3C 279
panel('right', 0, { series: [['r', rvRed, 0.06], ['b', rvBlue, 0.09], ['g', rvGreen, 0.12]], fit: rvFit,
  yMin: -1, yMax: 1, yMajor: rvTicks, yMinor: steps(-0.8, 0.8, 0.2), yLabels: rvTicks, yText: rvLabels,
  title: 'PERCENT', letter: 'V' });
panel('right', 1, { series: [['r', rxRed, 3], ['b', rxBlue, 4], ['g', rxGreen, 5]],
  yMin: 0, yMax: 180, yMajor: [0, 60, 120, 180], yMinor: steps(20, 160, 20), yLabels: rxTicks, yText: rxLabels,
  title: 'DEGREES', letter: 'X' });
panel('right', 2, { series: [['r', rpRed, 0.15], ['b', rpBlue, 0.2], ['g', rpGreen, 0.2]],
  yMin: 0, yMax: 11, yMajor: rpTicks, yMinor: steps(1, 10, 1), yLabels: rpTicks, yText: rpTicks.map(fdot),
  title: 'PERCENT', letter: 'P', name: { text: '3C 279', x: 2593, y: 603, size: 52 } });
panel('right', 3, { series: [['r', rsRed, 0.15], ['b', rsBlue, 0.15], ['g', rsGreen, 0.2]],
  yMin: 8, yMax: 24, yMajor: rsTicks, yMinor: steps(8, 24, 2), yLabels: rsTicks, yText: rsTicks.map(fdot),
  title: 'JANSKYS', letter: 'S' });
</script>
</body>
</html>
